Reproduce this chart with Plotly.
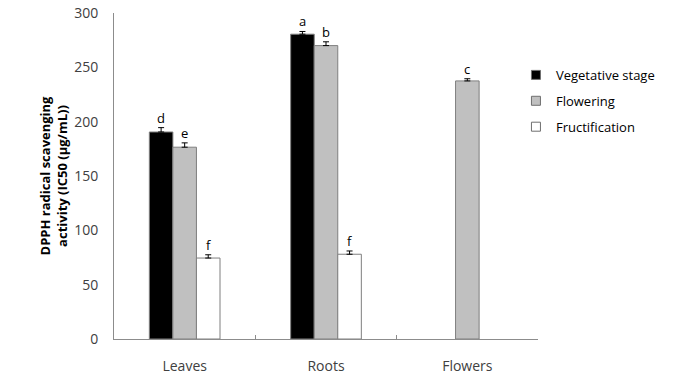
import plotly.graph_objects as go

categories = ["Leaves", "Roots", "Flowers"]
series_names = ["Vegetative stage", "Flowering", "Fructification"]
vegetative = [190.5, 280.5, None]
flowering = [176.5, 270.0, 237.5]
fructification = [74.5, 78.0, None]
veg_err = [4.0, 2.5, None]
flo_err = [4.0, 3.5, 2.0]
fru_err = [3.0, 3.0, None]
veg_letters = ["d", "a", None]
flo_letters = ["e", "b", "c"]
fru_letters = ["f", "f", None]

values = [vegetative, flowering, fructification]
errors = [veg_err, flo_err, fru_err]
letters = [veg_letters, flo_letters, fru_letters]
fills = ["#000000", "#c0c0c0", "#ffffff"]

font = "Open Sans, Lato, sans-serif"
fig = go.Figure()
for name, v, e, c in zip(series_names, values, errors, fills):
    fig.add_trace(go.Bar(
        x=categories, y=v, name=name, showlegend=False,
        marker=dict(color=c, line=dict(color="#7f7f7f", width=1)),
        error_y=dict(type="data", symmetric=False,
                     array=[x if x is not None else 0 for x in e],
                     arrayminus=[0] * len(e),
                     visible=True, color="#000000", thickness=1, width=3),
    ))
for name, c in zip(series_names, fills):
    fig.add_trace(go.Scatter(
        x=[None], y=[None], name=name, mode="markers", legendgroup=name,
        marker=dict(symbol="square", size=9, color=c, line=dict(color="#6f6f6f", width=1)),
    ))

shifts = [-23.6, 0, 23.6]
for v, e, lt, sh in zip(values, errors, letters, shifts):
    for cat, val, err, l in zip(categories, v, e, lt):
        if val is None or l is None:
            continue
        fig.add_annotation(x=cat, y=val + err, text=l, showarrow=False,
                           xshift=sh, yshift=10, font=dict(size=13, color="#000000", family=font))

fig.update_layout(
    width=675, height=375,
    margin=dict(l=114, r=137, t=13, b=36),
    plot_bgcolor="white", paper_bgcolor="white",
    barmode="group", bargap=0.5, bargroupgap=0,
    font=dict(family=font, size=13, color="#404040"),
    showlegend=True,
    legend=dict(x=0.948, y=0.856, xanchor="left", yanchor="top",
                font=dict(size=13, color="#000000", family=font),
                tracegroupgap=6, itemwidth=30),
)
fig.update_xaxes(
    automargin=False,
    showline=True, linecolor="#8c8c8c", linewidth=1,
    ticks="inside", tickson="boundaries", ticklen=4, tickcolor="#8c8c8c",
    ticklabelstandoff=14, tickfont=dict(size=14, color="#404040"),
)
fig.update_yaxes(
    automargin=False,
    range=[0, 300], dtick=50, showgrid=False, zeroline=False,
    showline=True, linecolor="#8c8c8c", linewidth=1, ticks="",
    ticklabelstandoff=12, tickfont=dict(size=14, color="#404040"),
    title=dict(text="<b>DPPH radical scavenging<br>activity (IC50 (µg/mL))</b>",
               font=dict(size=13, color="#000000"), standoff=3),
)
fig.write_html("out.html", config={"displayModeBar": False},
               post_script="document.body.style.margin='0';")
